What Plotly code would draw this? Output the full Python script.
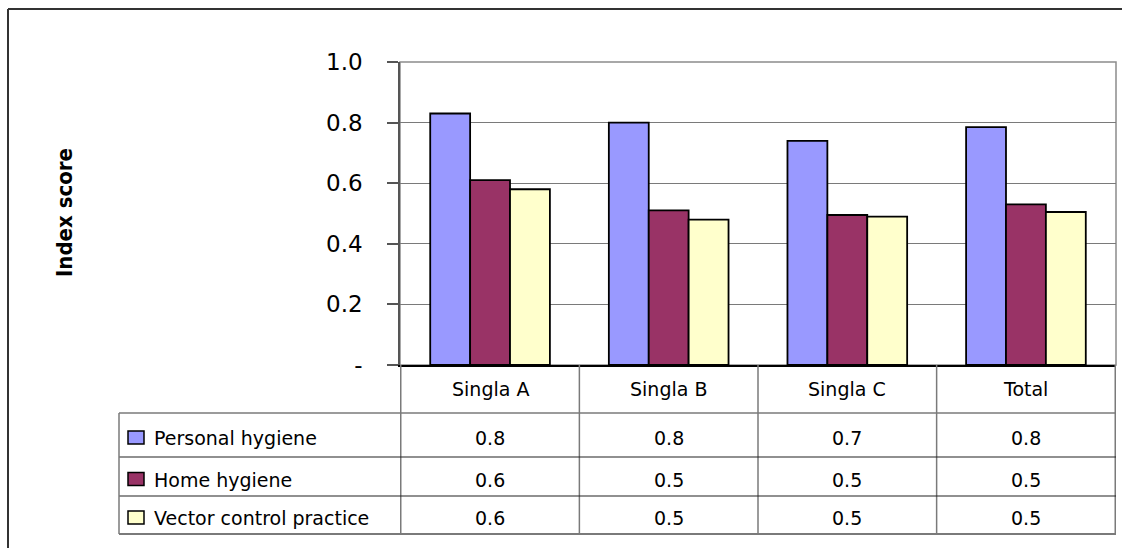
import plotly.graph_objects as go

# ---- data -------------------------------------------------------------
categories = ["Singla A", "Singla B", "Singla C", "Total"]
series_names = ["Personal hygiene", "Home hygiene", "Vector control practice"]
personal_hygiene = [0.83, 0.80, 0.74, 0.785]
home_hygiene = [0.61, 0.51, 0.495, 0.53]
vector_control = [0.58, 0.48, 0.49, 0.505]
y_tick_values = [0, 0.2, 0.4, 0.6, 0.8, 1.0]
y_tick_labels = ["-", "0.2", "0.4", "0.6", "0.8", "1.0"]

series_values = [personal_hygiene, home_hygiene, vector_control]
series_colors = ["#9999FF", "#993366", "#FFFFCC"]

# ---- page geometry (pixels) --------------------------------------------
W, H = 1122, 548
FONT = "'DejaVu Sans', 'Open Sans', sans-serif"


def px(x):
    return x / W


def py(y):
    return 1 - y / H


plot_left, plot_right, plot_top, plot_bottom = 400, 1116, 62, 365
table_left = 119
header_bottom = 413
row_bounds = [413, 457, 496, 534]

fig = go.Figure()
for name, vals, color in zip(series_names, series_values, series_colors):
    fig.add_trace(go.Bar(
        x=categories, y=vals, name=name,
        marker=dict(color=color, line=dict(color="#000000", width=1.8)),
        showlegend=False, hoverinfo="x+y+name",
    ))

shapes = []
annotations = []

# outer chart frame (top and left edges inside the page)
shapes.append(dict(type="line", xref="paper", yref="paper",
                   x0=px(8), x1=1, y0=py(9), y1=py(9),
                   line=dict(color="#333333", width=2)))
shapes.append(dict(type="line", xref="paper", yref="paper",
                   x0=px(8), x1=px(8), y0=py(9), y1=0,
                   line=dict(color="#333333", width=2)))

# plot area border (top and right edges)
shapes.append(dict(type="rect", xref="x domain", yref="y domain",
                   x0=0, x1=1, y0=0, y1=1, layer="below",
                   line=dict(color="#8c8c8c", width=1.5)))

# data table: category column separators
for i in range(len(categories) + 1):
    shapes.append(dict(type="line", xref="x", yref="paper",
                       x0=i - 0.5, x1=i - 0.5, y0=py(plot_bottom), y1=py(row_bounds[-1]),
                       line=dict(color="#7a7a7a", width=1.5)))

# data table: row lines and left edge
shapes.append(dict(type="line", xref="paper", yref="paper",
                   x0=px(table_left), x1=px(plot_right), y0=py(row_bounds[0]), y1=py(row_bounds[0]),
                   line=dict(color="#7a7a7a", width=1.5)))
for yb in row_bounds[1:-1]:
    shapes.append(dict(type="line", xref="paper", yref="paper",
                       x0=px(table_left), x1=px(plot_right), y0=py(yb), y1=py(yb),
                       line=dict(color="#222222", width=1.2)))
shapes.append(dict(type="line", xref="paper", yref="paper",
                   x0=px(table_left), x1=px(plot_right), y0=py(row_bounds[-1]), y1=py(row_bounds[-1]),
                   line=dict(color="#7a7a7a", width=2)))
shapes.append(dict(type="line", xref="paper", yref="paper",
                   x0=px(table_left), x1=px(table_left), y0=py(row_bounds[0]), y1=py(row_bounds[-1]),
                   line=dict(color="#7a7a7a", width=1.5)))

# category headings
for cat in categories:
    annotations.append(dict(x=cat, xref="x", y=py((plot_bottom + header_bottom) / 2), yref="paper",
                            text=cat, showarrow=False, xanchor="center", yanchor="middle",
                            font=dict(family=FONT, size=19, color="#000000")))

# rows: legend key, series name, rounded values
for r, (name, vals, color) in enumerate(zip(series_names, series_values, series_colors)):
    y_mid = (row_bounds[r] + row_bounds[r + 1]) / 2 + 3
    shapes.append(dict(type="rect", xref="paper", yref="paper",
                       x0=px(128), x1=px(144), y0=py(y_mid - 7), y1=py(y_mid + 6),
                       fillcolor=color, line=dict(color="#000000", width=1.5)))
    annotations.append(dict(x=px(152), xref="paper", y=py(y_mid), yref="paper",
                            text=name, showarrow=False, xanchor="left", yanchor="middle",
                            font=dict(family=FONT, size=19, color="#000000")))
    for cat, v in zip(categories, vals):
        annotations.append(dict(x=cat, xref="x", y=py(y_mid), yref="paper",
                                text=f"{v:.1f}", showarrow=False, xanchor="center", yanchor="middle",
                                font=dict(family=FONT, size=19, color="#000000")))

# y-axis title
annotations.append(dict(x=px(64), xref="paper", y=py(212), yref="paper",
                        text="<b>Index score</b>", textangle=-90, showarrow=False,
                        xanchor="center", yanchor="middle",
                        font=dict(family="'Liberation Sans Narrow', 'DejaVu Sans Condensed', sans-serif",
                                  size=22, color="#000000")))

fig.update_layout(
    width=W, height=H,
    margin=dict(l=0, r=0, t=0, b=0),
    paper_bgcolor="#ffffff", plot_bgcolor="#ffffff",
    barmode="group", bargap=0.33, bargroupgap=0,
    shapes=shapes, annotations=annotations,
    xaxis=dict(domain=[px(plot_left), px(plot_right)], showticklabels=False,
               showline=True, linecolor="#000000", linewidth=1.5, ticks="",
               showgrid=False, zeroline=False, fixedrange=True, automargin=False),
    yaxis=dict(domain=[py(plot_bottom), py(plot_top)], range=[0, 1],
               tickvals=y_tick_values, ticktext=y_tick_labels,
               ticks="outside", ticklen=11, tickwidth=1.5, tickcolor="#555555",
               ticklabelstandoff=20,
               tickfont=dict(family=FONT, size=23, color="#000000"),
               showline=True, linecolor="#555555", linewidth=1.5,
               showgrid=True, gridcolor="#7a7a7a", gridwidth=1.2,
               zeroline=False, fixedrange=True, automargin=False),
)

fig.write_html("out.html")
